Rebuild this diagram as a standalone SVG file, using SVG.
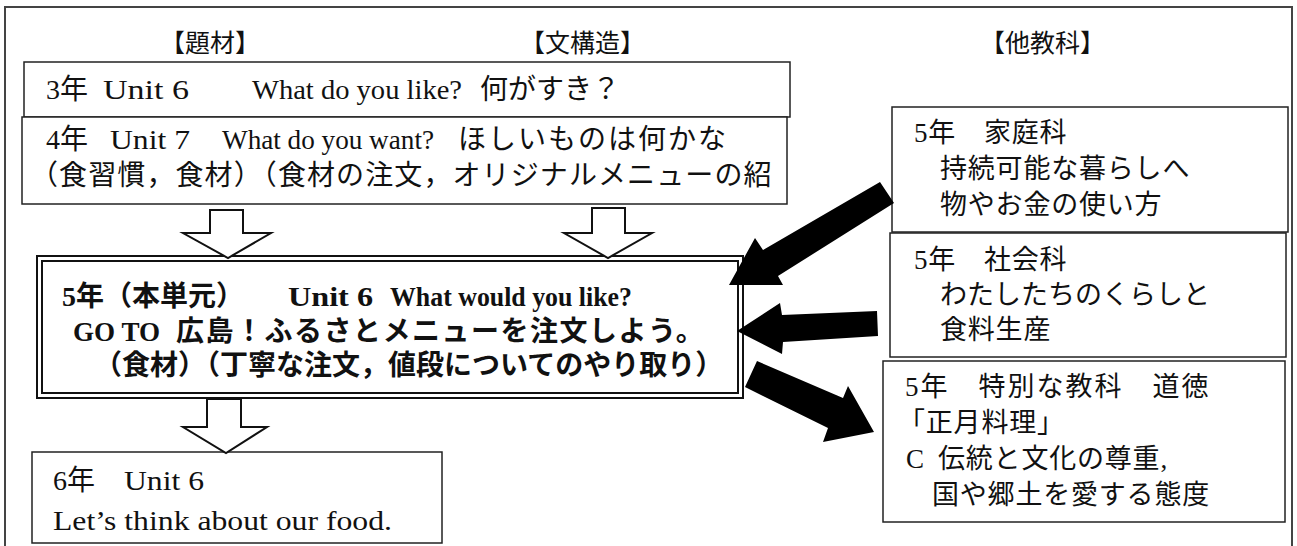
<svg xmlns="http://www.w3.org/2000/svg" width="1297" height="546" viewBox="0 0 1297 546">
<style>
text{font-family:"Liberation Serif","Noto Sans CJK JP",serif;font-size:28px;fill:#111;white-space:pre}
.h{font-size:25px}
.b{font-weight:bold;font-size:28px}
.r{font-size:27px;letter-spacing:0.8px}
.box{fill:#fff;stroke:#222;stroke-width:1.5}
.harr{fill:#fff;stroke:#111;stroke-width:2;stroke-linejoin:miter}
.farr{fill:#000;stroke:none}
</style>
<defs>
<clipPath id="c2"><rect x="22" y="117" width="765" height="87"/></clipPath>
</defs>
<path d="M5,548 V7 H1292 V548" fill="none" stroke="#444" stroke-width="2"/>
<g id="headers">
<text class="h" x="160" y="52">【題材】</text>
<text class="h" x="520" y="52">【文構造】</text>
<text class="h" x="980" y="52">【他教科】</text>
</g>
<g id="n3">
<rect class="box" x="24" y="62" width="766" height="55"/>
<text x="46" y="99">3年</text>
<text x="103" y="99" textLength="86" lengthAdjust="spacingAndGlyphs">Unit 6</text>
<text x="252" y="99" textLength="210" lengthAdjust="spacingAndGlyphs">What do you like?</text>
<text x="480" y="99">何がすき？</text>
</g>
<g id="n4">
<rect class="box" x="22" y="117" width="765" height="87"/>
<g clip-path="url(#c2)">
<text x="46" y="149">4年</text>
<text x="110" y="149" textLength="80" lengthAdjust="spacingAndGlyphs">Unit 7</text>
<text x="222" y="149" textLength="212" lengthAdjust="spacingAndGlyphs">What do you want?</text>
<text x="458" y="149" style="letter-spacing:2px">ほしいものは何かな</text>
<text x="30" y="185" style="letter-spacing:1.1px">（食習慣，食材）（食材の注文，オリジナルメニューの紹</text>
</g>
</g>
<g id="n5">
<rect x="37" y="256" width="706" height="142" fill="#fff" stroke="#111" stroke-width="2"/>
<rect x="42" y="261" width="696" height="132" fill="none" stroke="#111" stroke-width="2"/>
<text class="b" x="62" y="306">5年（本単元）</text>
<text class="b" x="288" y="306" textLength="85" lengthAdjust="spacingAndGlyphs">Unit 6</text>
<text class="b" x="390" y="306" textLength="242" lengthAdjust="spacingAndGlyphs">What would you like?</text>
<text class="b" x="73" y="341" textLength="87" lengthAdjust="spacingAndGlyphs">GO TO</text>
<text class="b" x="176" y="341" style="letter-spacing:1.5px">広島！ふるさとメニューを注文しよう。</text>
<text class="b" x="94" y="375">（食材）（丁寧な注文，値段についてのやり取り）</text>
</g>
<g id="n6">
<rect class="box" x="32" y="452" width="410" height="91"/>
<text x="53" y="490">6年</text>
<text x="124" y="490" textLength="80" lengthAdjust="spacingAndGlyphs">Unit 6</text>
<text x="53" y="530" textLength="339" lengthAdjust="spacingAndGlyphs">Let’s think about our food.</text>
</g>
<g id="home">
<rect class="box" x="892" y="107" width="396" height="125"/>
<text class="r" x="914" y="142">5年　家庭科</text>
<text class="r" x="940" y="178">持続可能な暮らしへ</text>
<text class="r" x="940" y="214">物やお金の使い方</text>
</g>
<g id="social">
<rect class="box" x="890" y="233" width="396" height="124"/>
<text class="r" x="914" y="269">5年　社会科</text>
<text class="r" x="940" y="304" style="letter-spacing:0">わたしたちのくらしと</text>
<text class="r" x="940" y="339">食料生産</text>
</g>
<g id="moral">
<rect class="box" x="883" y="361" width="402" height="161"/>
<text class="r" x="905" y="396" style="letter-spacing:2px">5年　特別な教科　道徳</text>
<text class="r" x="898" y="432">「正月料理」</text>
<text class="r" x="906" y="468">C</text>
<text class="r" x="938" y="468">伝統と文化の尊重,</text>
<text class="r" x="932" y="504">国や郷土を愛する態度</text>
</g>
<g id="connectors">
<polygon class="harr" points="210,210 243,210 243,233 271,233 228,258 183,233 210,233"/>
<polygon class="harr" points="592,208 625,208 625,233 652,233 608,258 564,233 592,233"/>
<polygon class="harr" points="207,399 241,399 241,427 267,427 226,453 183,427 207,427"/>
<polygon class="farr" points="729,285 755,238 763,250 880,182 894,203 778,276 783,285"/>
<polygon class="farr" points="737,331 780,303 782,315 877,311 878,336 783,342 782,354"/>
<polygon class="farr" points="757,361 843,398 848,386 874,432 823,442 828,428 745,387"/>
</g>
</svg>
